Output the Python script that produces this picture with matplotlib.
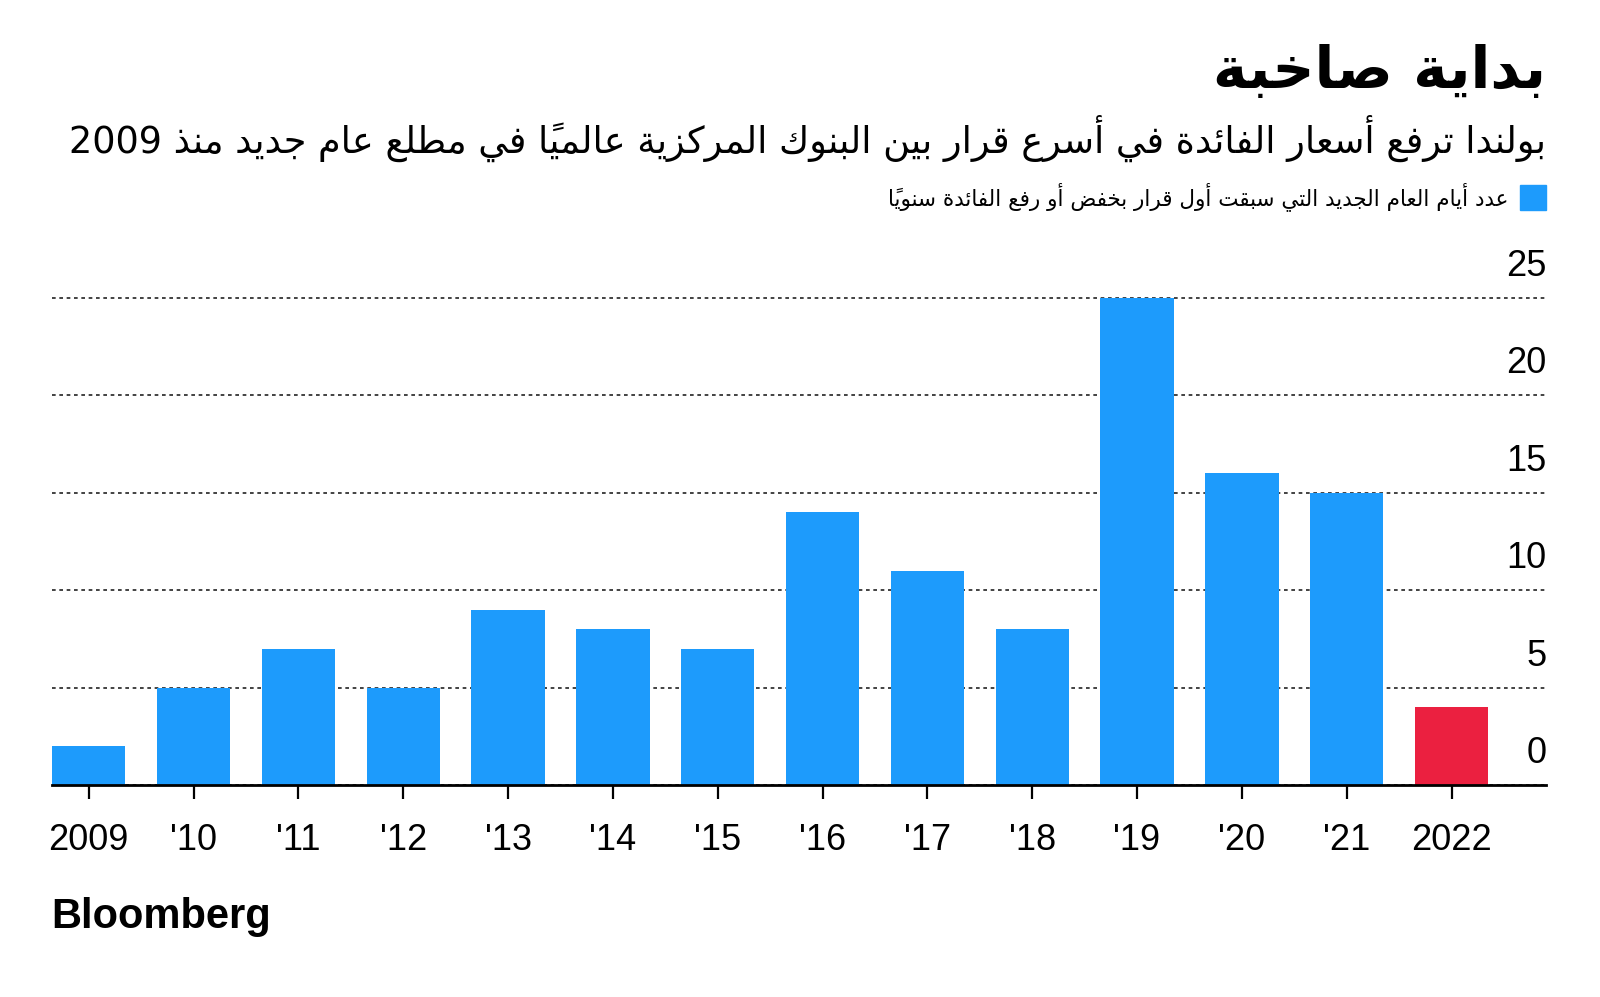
import re

import matplotlib
matplotlib.use("Agg")
import matplotlib.pyplot as plt
from matplotlib import transforms
from matplotlib.patches import Rectangle

# data
years = ["2009", "'10", "'11", "'12", "'13", "'14", "'15", "'16", "'17",
         "'18", "'19", "'20", "'21", "2022"]
days = [2, 5, 7, 5, 9, 8, 7, 14, 11, 8, 25, 16, 15, 4]
highlight = "2022"
y_ticks = [0, 5, 10, 15, 20, 25]

title = "بداية صاخبة"
subtitle = "بولندا ترفع أسعار الفائدة في أسرع قرار بين البنوك المركزية عالمياً في مطلع عام جديد منذ 2009"
legend_label = "عدد أيام العام الجديد التي سبقت أول قرار بخفض أو رفع الفائدة سنوياً"
source = "Bloomberg"

BLUE = "#1D9BFC"
RED = "#EB2040"
ARABIC_FONT = "DejaVu Sans"
LATIN_FONT = "Liberation Sans"

# matplotlib has no Arabic shaping, so pick presentation forms by hand
# (letter -> first code point in Presentation Forms-B, number of forms)
_counts = [1, 2, 2, 2, 2, 4, 2, 4, 2, 4, 4, 4, 4, 4, 2, 2, 2, 2, 4, 4, 4, 4, 4, 4, 4, 4,
           4, 4, 4, 4, 4, 4, 4, 2, 2, 4]
_letters = [chr(c) for c in range(0x0621, 0x063B)] + [chr(c) for c in range(0x0641, 0x064B)]
FORMS = {}
_cp = 0xFE80
for ch, n in zip(_letters, _counts):
    FORMS[ch] = (_cp, n)
    _cp += n
MARKS = set(chr(c) for c in range(0x064B, 0x0653))


def shape(text):
    chars = list(text)
    out = []
    for i, c in enumerate(chars):
        if c not in FORMS:
            out.append(c)
            continue
        base, n = FORMS[c]
        j = i - 1
        while j >= 0 and chars[j] in MARKS:
            j -= 1
        k = i + 1
        while k < len(chars) and chars[k] in MARKS:
            k += 1
        prev = chars[j] if j >= 0 else ""
        nxt = chars[k] if k < len(chars) else ""
        join_prev = n > 1 and prev in FORMS and FORMS[prev][1] == 4
        join_next = n == 4 and nxt in FORMS and FORMS[nxt][1] > 1
        if join_prev and join_next:
            out.append(chr(base + 3))
        elif join_prev:
            out.append(chr(base + 1))
        elif join_next:
            out.append(chr(base + 2))
        else:
            out.append(chr(base))
    shaped = "".join(out)
    # visual order: reverse clusters, keep digit runs left to right
    tokens = re.findall(r"[0-9]+|.[\u064B-\u0652]*", shaped)
    return "".join(reversed(tokens))


fig = plt.figure(figsize=(16, 9.97), dpi=100)
ax = fig.add_axes([0.0325, 0.2126, 0.934, 0.5081])

x = list(range(len(years)))
colors = [RED if y == highlight else BLUE for y in years]
ax.bar(x, days, width=0.7, color=colors, zorder=2)

ax.set_xlim(-0.351, 13.905)
ax.set_ylim(0, 26)
ax.set_yticks(y_ticks)
ax.yaxis.grid(True, color="#222222", linewidth=1.2, linestyle=(0, (2.2, 2.2)), zorder=1)
ax.set_axisbelow(True)
ax.tick_params(axis="y", length=0, labelleft=False)

for side in ["left", "right", "top"]:
    ax.spines[side].set_visible(False)
ax.spines["bottom"].set_linewidth(2)
ax.spines["bottom"].set_zorder(3)

ax.set_xticks(x, years)
ax.tick_params(axis="x", length=10, width=1.6, pad=17, labelsize=26, color="black")
for lbl in ax.get_xticklabels():
    lbl.set_family(LATIN_FONT)

label_tr = transforms.blended_transform_factory(ax.transAxes, ax.transData) + \
    transforms.ScaledTranslation(0, 0.22, fig.dpi_scale_trans)
for v in y_ticks:
    ax.text(1.0, v, str(v), transform=label_tr, ha="right", va="baseline",
            fontsize=26, family=LATIN_FONT)

# header
right = 1546 / 1600
fig.text(right, 1 - 72 / 997, shape(title), ha="right", va="center",
         fontsize=42, fontweight="bold", family=ARABIC_FONT)
fig.text(right, 1 - 138 / 997, shape(subtitle), ha="right", va="center",
         fontsize=26.4, family=ARABIC_FONT)

fig.add_artist(Rectangle((1520 / 1600, 1 - 210 / 997), 26 / 1600, 25 / 997,
                         transform=fig.transFigure, color=BLUE))
fig.text(1508 / 1600, 1 - 197 / 997, shape(legend_label), ha="right", va="center",
         fontsize=15.5, family=ARABIC_FONT)

fig.text(51 / 1600, 1 - 917 / 997, source, ha="left", va="center",
         fontsize=30, fontweight="bold", family=LATIN_FONT)

fig.savefig("out.png", dpi=100)
